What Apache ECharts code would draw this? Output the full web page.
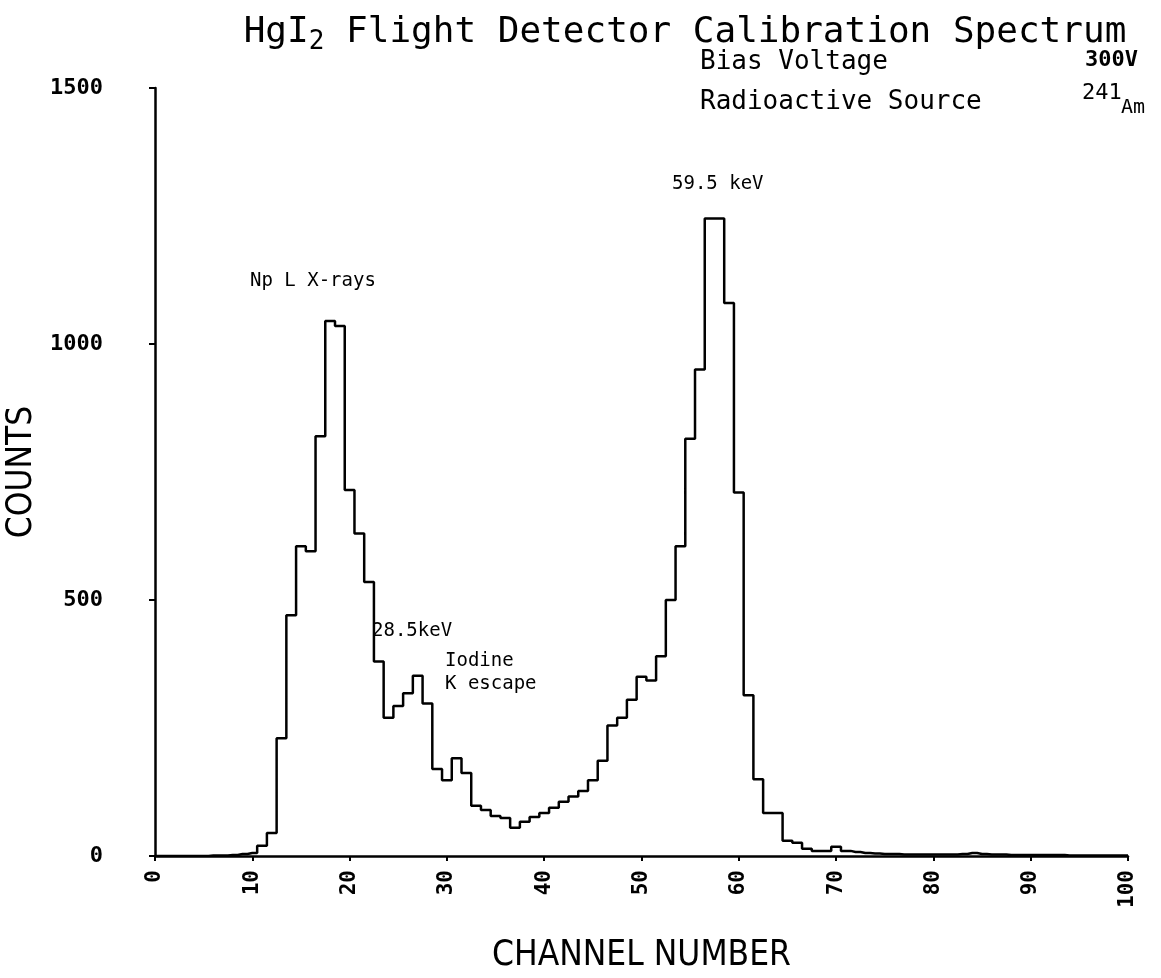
<!DOCTYPE html>
<html>
<head>
<meta charset="utf-8">
<script src="https://cdn.jsdelivr.net/npm/echarts@6/dist/echarts.min.js"></script>
<style>
  html, body { margin: 0; padding: 0; background: #fff; }
  #chart { width: 1161px; height: 978px; }
</style>
</head>
<body>
<div id="chart"></div>
<script>
// counts per channel, channel 0 .. 100
var counts = [
  0, 0, 0, 0, 0, 0, 1, 1, 2, 4,
  6, 20, 45, 230, 470, 605, 595, 820, 1045, 1035,
  715, 630, 535, 380, 270, 293, 318, 352, 298, 170,
  148, 191, 162, 98, 90, 78, 74, 55, 67, 76,
  84, 94, 106, 116, 127, 148, 186, 255, 270, 305,
  350, 343, 390, 500, 605, 815, 950, 1245, 1245, 1080,
  710, 314, 150, 84, 84, 30, 26, 14, 10, 10,
  18, 10, 8, 6, 5, 4, 4, 3, 3, 3,
  3, 3, 3, 4, 6, 4, 3, 3, 2, 2,
  2, 2, 2, 2, 1, 1, 1, 1, 1, 1,
  1
];
var xTicks = [0, 10, 20, 30, 40, 50, 60, 70, 80, 90, 100];
var yTicks = [0, 500, 1000, 1500];

var points = counts.map(function (c, i) { return [i, c]; });

var mono = '"DejaVu Sans Mono", monospace';
var cond = '"DejaVu Sans Condensed", "DejaVu Sans", sans-serif';

var chart = echarts.init(document.getElementById('chart'));
chart.setOption({
    backgroundColor: '#fff',
    animation: false,
    title: {
        text: 'HgI{sub|2} Flight Detector Calibration Spectrum',
        left: 680,
        top: 6,
        textAlign: 'center',
        textStyle: {
            fontFamily: mono,
            fontSize: 36,
            fontWeight: 'normal',
            color: '#000',
            rich: {
                sub: { fontFamily: mono, fontSize: 26, padding: [18, 0, 0, 0], color: '#000' }
            }
        }
    },
    grid: {
        left: 155,
        right: 33,
        top: 88,
        bottom: 122,
        containLabel: false,
        outerBoundsMode: 'none'
    },
    xAxis: {
        type: 'value',
        min: xTicks[0],
        max: xTicks[xTicks.length - 1],
        interval: 10,
        name: 'CHANNEL NUMBER',
        nameLocation: 'middle',
        nameGap: 82,
        nameTextStyle: {
            fontFamily: cond,
            fontSize: 35,
            color: '#000'
        },
        axisLine: { lineStyle: { color: '#000', width: 2.5 } },
        axisTick: { length: 5, lineStyle: { color: '#000', width: 2 } },
        axisLabel: {
            rotate: 90,
            margin: 14,
            fontFamily: mono,
            fontWeight: 'bold',
            fontSize: 21,
            color: '#000'
        },
        splitLine: { show: false }
    },
    yAxis: {
        type: 'value',
        min: yTicks[0],
        max: yTicks[yTicks.length - 1],
        interval: 500,
        name: 'COUNTS',
        nameLocation: 'middle',
        nameGap: 115,
        nameRotate: 90,
        nameTextStyle: {
            fontFamily: cond,
            fontSize: 35,
            color: '#000'
        },
        axisLine: { show: true, lineStyle: { color: '#000', width: 2.5 } },
        axisTick: { show: true, length: 6, lineStyle: { color: '#000', width: 2 } },
        axisLabel: {
            margin: 52,
            fontFamily: mono,
            fontWeight: 'bold',
            fontSize: 22,
            color: '#000',
            formatter: function (v) { return String(v); }
        },
        splitLine: { show: false }
    },
    series: [{
        type: 'line',
        step: 'middle',
        data: points,
        showSymbol: false,
        lineStyle: { color: '#000', width: 2.5 }
    }],
    graphic: [
        { type: 'text', left: 700, top: 49, style: { text: 'Bias Voltage', font: 'normal 26px ' + mono, fill: '#000' } },
        { type: 'text', left: 1085, top: 49, style: { text: '300V', font: 'bold 22px ' + mono, fill: '#000' } },
        { type: 'text', left: 700, top: 89, style: { text: 'Radioactive Source', font: 'normal 26px ' + mono, fill: '#000' } },
        { type: 'text', left: 1082, top: 82, style: { text: '241', font: 'normal 22px ' + mono, fill: '#000' } },
        { type: 'text', left: 1121, top: 98, style: { text: 'Am', font: 'normal 20px ' + mono, fill: '#000' } },
        { type: 'text', left: 672, top: 175, style: { text: '59.5 keV', font: 'normal 19px ' + mono, fill: '#000' } },
        { type: 'text', left: 250, top: 272, style: { text: 'Np L X-rays', font: 'normal 19px ' + mono, fill: '#000' } },
        { type: 'text', left: 372, top: 622, style: { text: '28.5keV', font: 'normal 19px ' + mono, fill: '#000' } },
        { type: 'text', left: 445, top: 652, style: { text: 'Iodine', font: 'normal 19px ' + mono, fill: '#000' } },
        { type: 'text', left: 445, top: 675, style: { text: 'K escape', font: 'normal 19px ' + mono, fill: '#000' } }
    ]
});
</script>
</body>
</html>
